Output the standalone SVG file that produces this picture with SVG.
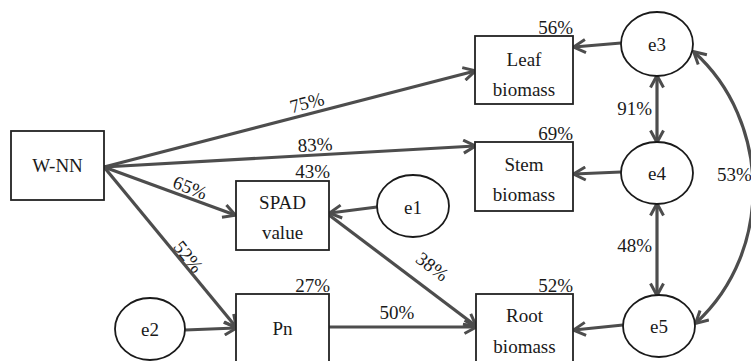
<svg xmlns="http://www.w3.org/2000/svg" width="751" height="361" viewBox="0 0 751 361">
<style>
text{font-family:"Liberation Serif","Times New Roman","DejaVu Serif",Times,serif;font-size:19px;fill:#1a1a1a}
.box{fill:#fff;stroke:#222;stroke-width:1.8}
.ell{fill:#fff;stroke:#1a1a1a;stroke-width:1.8}
.c{text-anchor:middle}
.e{text-anchor:end}
.ln{fill:none;stroke:#4d4d4d;stroke-width:3.2}
</style>
<defs>
<marker id="ah" viewBox="0 0 16 16" refX="13.5" refY="8" markerWidth="16" markerHeight="16" markerUnits="userSpaceOnUse" orient="auto-start-reverse">
<path d="M2,1.5 L14,8 L2,14.5" fill="none" stroke="#4d4d4d" stroke-width="3"/>
</marker>
</defs>
<g id="connectors">
<line class="ln" x1="104" y1="167" x2="475" y2="71" marker-end="url(#ah)"/>
<line class="ln" x1="104" y1="167" x2="475" y2="146" marker-end="url(#ah)"/>
<line class="ln" x1="104" y1="167" x2="235" y2="215" marker-end="url(#ah)"/>
<line class="ln" x1="104" y1="167" x2="236" y2="327" marker-end="url(#ah)"/>
<line class="ln" x1="377" y1="207" x2="330" y2="213" marker-end="url(#ah)"/>
<line class="ln" x1="329" y1="215" x2="476" y2="326" marker-end="url(#ah)"/>
<line class="ln" x1="329" y1="327" x2="476" y2="327" marker-end="url(#ah)"/>
<line class="ln" x1="185" y1="330" x2="236" y2="328" marker-end="url(#ah)"/>
<line class="ln" x1="621" y1="43" x2="574" y2="47" marker-end="url(#ah)"/>
<line class="ln" x1="621" y1="172" x2="574" y2="174" marker-end="url(#ah)"/>
<line class="ln" x1="623" y1="325" x2="574" y2="330" marker-end="url(#ah)"/>
<line class="ln" x1="657" y1="76" x2="657" y2="142" marker-start="url(#ah)" marker-end="url(#ah)"/>
<line class="ln" x1="657" y1="204" x2="657" y2="295" marker-start="url(#ah)" marker-end="url(#ah)"/>
<path class="ln" d="M694,52 C770,120 775,250 696,323" marker-start="url(#ah)" marker-end="url(#ah)"/>
<text transform="translate(307,103) rotate(-14.5)" x="0" y="6" class="c">75%</text>
<text transform="translate(315,145) rotate(-3)" x="0" y="6" class="c">83%</text>
<text transform="translate(190,188) rotate(21)" x="0" y="6" class="c">65%</text>
<text transform="translate(188,257) rotate(51)" x="0" y="6" class="c">52%</text>
<text transform="translate(432,267) rotate(37)" x="0" y="6" class="c">38%</text>
<text x="397" y="319" class="c">50%</text>
<text x="652" y="115" class="e">91%</text>
<text x="652" y="252" class="e">48%</text>
<text x="717" y="181">53%</text>
</g>
<g id="W-NN"><rect class="box" x="11" y="131" width="93" height="69"/><text x="57.5" y="172" class="c">W-NN</text></g>
<g id="Leaf"><rect class="box" x="475" y="36" width="98" height="68"/><text x="524" y="66" class="c">Leaf</text><text x="524" y="96" class="c">biomass</text><text x="573" y="34" class="e">56%</text></g>
<g id="Stem"><rect class="box" x="475" y="142" width="98" height="69"/><text x="524" y="171" class="c">Stem</text><text x="524" y="201" class="c">biomass</text><text x="573" y="140" class="e">69%</text></g>
<g id="SPAD"><rect class="box" x="236" y="181" width="93" height="69"/><text x="282.5" y="209" class="c">SPAD</text><text x="282.5" y="239" class="c">value</text><text x="330" y="178" class="e">43%</text></g>
<g id="Pn"><rect class="box" x="236" y="294" width="93" height="80"/><text x="282.5" y="335" class="c">Pn</text><text x="330" y="292" class="e">27%</text></g>
<g id="Root"><rect class="box" x="476" y="294" width="97" height="80"/><text x="524.5" y="322" class="c">Root</text><text x="524.5" y="353" class="c">biomass</text><text x="573" y="292" class="e">52%</text></g>
<g id="e1"><ellipse class="ell" cx="413" cy="206" rx="36" ry="31"/><text x="413" y="214" class="c">e1</text></g>
<g id="e2"><ellipse class="ell" cx="150" cy="329" rx="35" ry="31"/><text x="150" y="336" class="c">e2</text></g>
<g id="e3"><ellipse class="ell" cx="657" cy="44" rx="36" ry="32"/><text x="657" y="51" class="c">e3</text></g>
<g id="e4"><ellipse class="ell" cx="657" cy="173" rx="36" ry="31"/><text x="657" y="180" class="c">e4</text></g>
<g id="e5"><ellipse class="ell" cx="659" cy="326" rx="36" ry="31"/><text x="659" y="333" class="c">e5</text></g>
</svg>
